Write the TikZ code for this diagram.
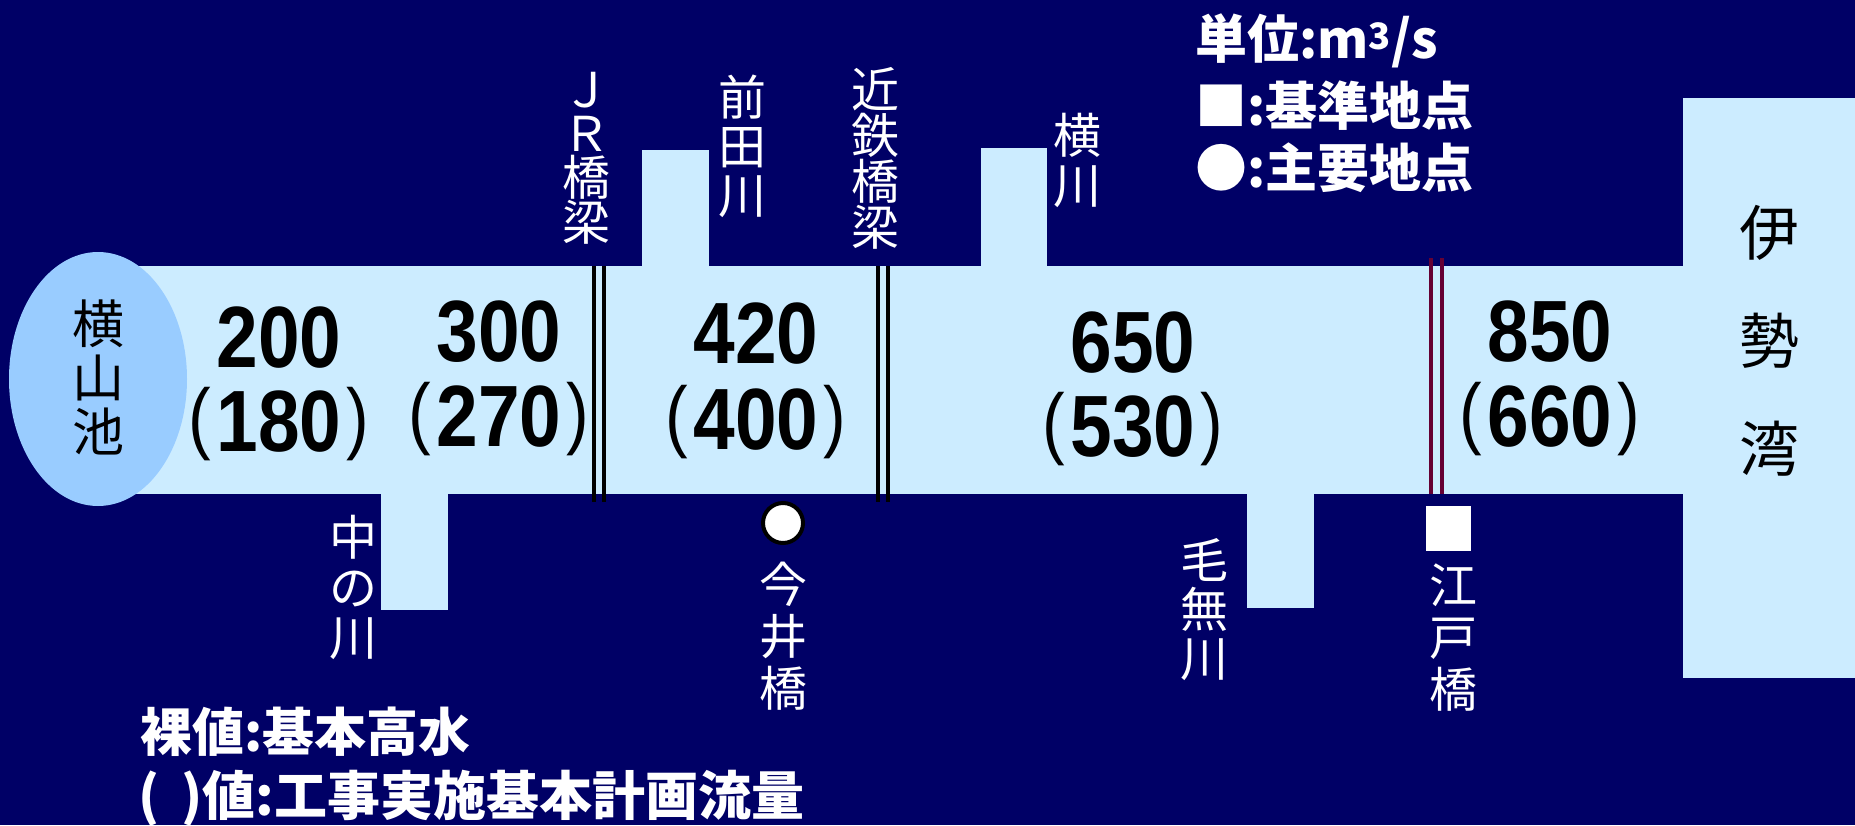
\documentclass[tikz,border=0pt]{standalone}
\usepackage{fontspec}
\usetikzlibrary{shapes.geometric}
\newfontfamily\jp{Noto Sans CJK JP}
\newfontfamily\num{Liberation Sans}
\definecolor{navy}{RGB}{0,0,102}
\definecolor{river}{RGB}{204,236,255}
\definecolor{pond}{RGB}{153,204,255}
\definecolor{maroon}{RGB}{102,0,51}
\tikzset{
  vlab/.style={text=white, font=\jp\fontsize{48}{#1}\selectfont, align=center, inner sep=0pt},
  blab/.style={text=black, font=\jp\fontsize{52}{#1}\selectfont, align=center, inner sep=0pt},
  numb/.style={text=black, font=\num\bfseries\fontsize{87}{87}\selectfont, inner sep=0pt, xscale=0.86, anchor=base},
  legend/.style={text=white, font=\jp\bfseries\fontsize{52}{52}\selectfont, inner sep=0pt, anchor=west},
  water/.style={fill=river, draw=none},
  bridge/.style={draw=black, line width=4pt},
  mbridge/.style={draw=maroon, line width=4pt}
}
\newcommand{\pp}[1]{\raisebox{7pt}{\fontsize{79}{79}\mdseries#1}}
\newcommand{\pv}[1]{\pp{(}\hspace{6pt}#1\hspace{6pt}\pp{)}}
\begin{document}
\begin{tikzpicture}[x=1pt,y=-1pt]
\path[fill=navy, use as bounding box] (0,0) rectangle (1855,825);
% main channel and tributaries
\path[water] (98,266) rectangle (1684,494);
\path[water] (1683,98) rectangle (1855,678);
\path[water] (642,150) rectangle (709,267);
\path[water] (981,148) rectangle (1047,267);
\path[water] (381,493) rectangle (448,610);
\path[water] (1247,493) rectangle (1314,608);
% pond
\node[ellipse, fill=pond, minimum width=178pt, minimum height=254pt, inner sep=0pt] (pond) at (98,379) {};
\node[blab=54] (yokoyama) at (98,377) {横\\山\\池};
\node[blab=108, font=\jp\fontsize{60}{108}\selectfont] (ise) at (1769,341) {伊\\勢\\湾};
% bridges
\coordinate (jr1t) at (594,266); \coordinate (jr1b) at (594,502);
\coordinate (jr2t) at (604,266); \coordinate (jr2b) at (604,502);
\draw[bridge] (jr1t) -- (jr1b); \draw[bridge] (jr2t) -- (jr2b);
\coordinate (kt1t) at (878,266); \coordinate (kt1b) at (878,502);
\coordinate (kt2t) at (888,266); \coordinate (kt2b) at (888,502);
\draw[bridge] (kt1t) -- (kt1b); \draw[bridge] (kt2t) -- (kt2b);
\coordinate (ed1t) at (1431,258); \coordinate (ed1b) at (1431,494);
\coordinate (ed2t) at (1442,258); \coordinate (ed2b) at (1442,494);
\draw[mbridge] (ed1t) -- (ed1b); \draw[mbridge] (ed2t) -- (ed2b);
% points
\node[circle, fill=white, draw=black, line width=4pt, minimum size=40pt, inner sep=0pt] (imai) at (783,523) {};
\node[rectangle, fill=white, minimum size=45pt, inner sep=0pt] (edo) at (1448,528) {};
% flow values
\node[numb] (v1) at (279,367) {200};
\node[numb] (p1) at (279,451) {\pv{180}};
\node[numb] (v2) at (499,361) {300};
\node[numb] (p2) at (499,446) {\pv{270}};
\node[numb] (v3) at (756,363) {420};
\node[numb] (p3) at (756,449) {\pv{400}};
\node[numb] (v4) at (1133,372) {650};
\node[numb] (p4) at (1133,456) {\pv{530}};
\node[numb] (v5) at (1550,361) {850};
\node[numb] (p5) at (1550,446) {\pv{660}};
% vertical labels
\node[vlab=44] (ljr) at (586,158) {Ｊ\\Ｒ\\橋\\梁};
\node[vlab=49] (lmaeda) at (742,146) {前\\田\\川};
\node[vlab=46] (lkin) at (875,158) {近\\鉄\\橋\\梁};
\node[vlab=50] (lyoko) at (1077,160) {横\\川};
\node[vlab=50] (lnaka) at (353,587) {中\\の\\川};
\node[vlab=52] (limai) at (783,636) {今\\井\\橋};
\node[vlab=49] (lkena) at (1204,610) {毛\\無\\川};
\node[vlab=52] (ledo) at (1453,638) {江\\戸\\橋};
% legends
\node[legend] (unit) at (1195,41) {単位:m\textsuperscript{3}/s};
\node[legend] (lsq) at (1195,106) {■:基準地点};
\node[legend] (lci) at (1195,168) {●:主要地点};
\node[legend] (lbare) at (140,732) {裸値:基本高水};
\node[legend, font=\jp\bfseries\fontsize{53}{53}\selectfont] (lpar) at (138,798) {(\hspace{22pt})値:工事実施基本計画流量};
\end{tikzpicture}
\end{document}
